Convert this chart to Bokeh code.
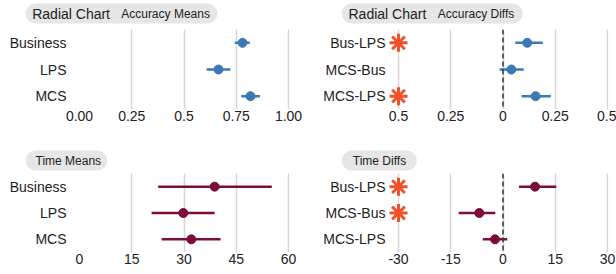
from bokeh.plotting import figure
from bokeh.layouts import column, row
from bokeh.models import FactorRange, Range1d, FixedTicker, Span, Label, ColumnDataSource
from bokeh.embed import file_html
from bokeh.resources import INLINE

# ---------------- data ----------------
groups = ["Business", "LPS", "MCS"]
pairs = ["Bus-LPS", "MCS-Bus", "MCS-LPS"]

acc_mean = [0.780, 0.665, 0.818]
acc_lo = [0.743, 0.608, 0.774]
acc_hi = [0.815, 0.722, 0.863]

accd_mean = [0.116, 0.040, 0.156]
accd_lo = [0.059, -0.016, 0.089]
accd_hi = [0.190, 0.099, 0.229]
accd_sig = [True, False, True]

time_mean = [38.8, 29.8, 32.1]
time_lo = [22.6, 20.7, 23.6]
time_hi = [55.2, 38.8, 40.5]

timed_mean = [9.2, -6.8, -2.3]
timed_lo = [4.6, -12.7, -5.8]
timed_hi = [15.3, -2.2, 1.2]
timed_sig = [True, True, False]

acc_ticks = [0, 0.25, 0.5, 0.75, 1.0]
acc_tick_labels = ["0.00", "0.25", "0.5", "0.75", "1.00"]
accd_ticks = [-0.5, -0.25, 0, 0.25, 0.5]
accd_tick_labels = ["0.5", "0.25", "0", "0.25", "0.5"]
time_ticks = [0, 15, 30, 45, 60]
time_tick_labels = ["0", "15", "30", "45", "60"]
timed_ticks = [-30, -15, 0, 15, 30]
timed_tick_labels = ["-30", "-15", "0", "15", "30"]

chart_name = "Radial Chart"
panel_titles = ["Accuracy Means", "Accuracy Diffs", "Time Means", "Time Diffs"]

BLUE = "#3b78b4"
MAROON = "#7b0c3b"
STAR = "#f0532b"
FONT = "Liberation Sans"
TXT = "#222222"
PILL = "#e6e6e6"
W = 616


def make_panel(cats, mean, lo, hi, ticks, tick_labels, color, width, height,
               bl, br, bt, bb, star_pad=0, sig=None, zero_line=False):
    frame_w = width - bl - br
    span = ticks[-1] - ticks[0]
    upp = span / (frame_w - star_pad - 1)
    p = figure(width=width, height=height,
               x_range=Range1d(ticks[0] - star_pad * upp, ticks[-1] + upp),
               y_range=FactorRange(factors=cats[::-1], range_padding=0),
               output_backend="svg", toolbar_location=None,
               min_border_left=bl, min_border_right=br,
               min_border_top=bt, min_border_bottom=bb)
    p.outline_line_color = None
    p.background_fill_color = "white"
    p.border_fill_color = "white"

    p.xaxis.ticker = FixedTicker(ticks=ticks)
    p.xaxis.major_label_overrides = {t: l for t, l in zip(ticks, tick_labels)}
    p.xgrid.ticker = FixedTicker(ticks=ticks)
    p.xgrid.grid_line_color = "#d6d6d6"
    p.xgrid.grid_line_width = 1.5
    p.ygrid.grid_line_color = None

    for ax in (p.xaxis, p.yaxis):
        ax.axis_line_color = None
        ax.major_tick_line_color = None
        ax.minor_tick_line_color = None
        ax.major_tick_out = 0
        ax.major_tick_in = 0
        ax.major_label_text_font = FONT
        ax.major_label_text_font_size = "14px"
        ax.major_label_text_color = TXT
    p.xaxis.major_label_standoff = 1
    p.yaxis.major_label_standoff = 13 if star_pad == 0 else 1

    if zero_line:
        p.add_layout(Span(location=0, dimension="height", line_color="#333333",
                          line_width=1.5, line_dash="5 3"))

    src = ColumnDataSource(dict(cat=cats, mean=mean, lo=lo, hi=hi))
    p.segment(x0="lo", x1="hi", y0="cat", y1="cat", source=src,
              line_color=color, line_width=2.5)
    p.scatter(x="mean", y="cat", source=src, size=9,
              fill_color=color, line_color=color)

    if sig is not None:
        sc = [c for c, s in zip(cats, sig) if s]
        p.scatter(x=[ticks[0]] * len(sc), y=sc, marker="asterisk", size=18,
                  line_color=STAR, line_width=3)
    return p


def make_strip(height, y0, pills):
    """pills: list of (left, right, top, bottom, [(text, x, size), ...]) in page px."""
    s = figure(width=W, height=height, x_range=Range1d(0, W),
               y_range=Range1d(y0 + height, y0),
               output_backend="svg", toolbar_location=None,
               x_axis_location=None, y_axis_location=None,
               min_border=0)
    s.outline_line_color = None
    s.xgrid.visible = False
    s.ygrid.visible = False
    for (l, r, t, b, texts) in pills:
        s.quad(left=[l], right=[r], top=[t], bottom=[b], fill_color=PILL,
               line_color=None, border_radius=10)
        for (txt, x, size) in texts:
            s.add_layout(Label(x=x, y=(t + b) / 2, text=txt, text_font=FONT,
                               text_font_size=size, text_color=TXT,
                               text_baseline="middle", text_align="left"))
    return s


strip1 = make_strip(29, 0, [
    (25, 217, 3, 23, [(chart_name, 31.7, "14px"), (panel_titles[0], 120.7, "12px")]),
    (341.3, 522.3, 3, 23, [(chart_name, 348, "14px"), (panel_titles[1], 437.3, "12px")]),
])
strip2 = make_strip(28, 145, [
    (25, 106.7, 150, 170, [(panel_titles[2], 35, "12px")]),
    (341.3, 416.3, 150, 170, [(panel_titles[3], 352.3, "12px")]),
])

p1 = make_panel(groups, acc_mean, acc_lo, acc_hi, acc_ticks, acc_tick_labels, BLUE,
                308, 116, 79, 19, 0, 36)
p2 = make_panel(pairs, accd_mean, accd_lo, accd_hi, accd_ticks, accd_tick_labels, BLUE,
                308, 116, 78, 8, 0, 36, star_pad=12, sig=accd_sig, zero_line=True)
p3 = make_panel(groups, time_mean, time_lo, time_hi, time_ticks, time_tick_labels, MAROON,
                308, 101, 79, 19, 0, 22)
p4 = make_panel(pairs, timed_mean, timed_lo, timed_hi, timed_ticks, timed_tick_labels, MAROON,
                308, 101, 78, 8, 0, 22, star_pad=12, sig=timed_sig, zero_line=True)

layout = column(strip1, row(p1, p2), strip2, row(p3, p4))
open("out.html", "w").write(file_html(layout, INLINE))
